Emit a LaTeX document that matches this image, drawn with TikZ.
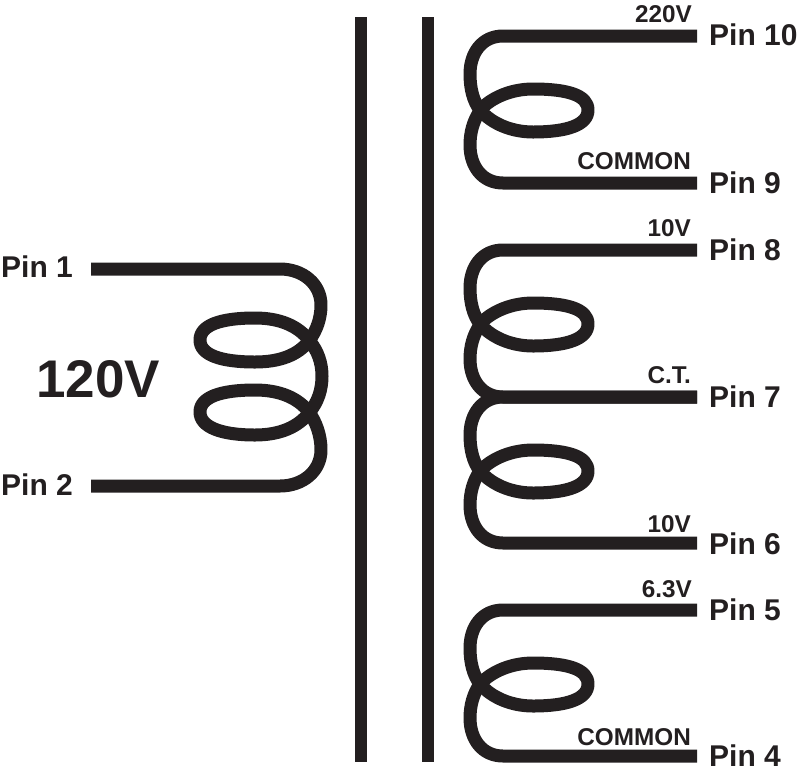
\documentclass[tikz,border=0pt]{standalone}
\usepackage{fontspec}
\setmainfont{Liberation Sans}
\definecolor{ink}{HTML}{231F20}
\tikzset{
  wire/.style={draw=ink,line width=13pt,line join=round,line cap=butt},
  core/.style={fill=ink,draw=none},
  pinlabel/.style={text=ink,inner sep=0pt,anchor=base west,font=\bfseries\fontsize{30}{32}\selectfont},
  taplabel/.style={text=ink,inner sep=0pt,anchor=base east,font=\bfseries\fontsize{24.3}{26}\selectfont},
  biglabel/.style={text=ink,inner sep=0pt,anchor=base west,font=\bfseries\fontsize{53}{55}\selectfont},
  pics/halfcoil/.style={code={
    \draw[wire] (0,0) -- (-194,0)
      .. controls (-215,0) and (-227,17) .. (-227,38)
      .. controls (-227,52) and (-224,65) .. (-217,74)
      .. controls (-205,88) and (-185,96) .. (-164,96)
      .. controls (-130,96) and (-109,89) .. (-109,74)
      .. controls (-109,59) and (-130,53) .. (-164,53)
      .. controls (-185,53) and (-205,61) .. (-217,74);
  }},
  pics/tailcoil/.style={code={
    \draw[wire] (-217,-72) .. controls (-224,-62) and (-227,-50) .. (-227,-38)
      .. controls (-227,-17) and (-215,0) .. (-194,0) -- (0,0);
  }}
}
\begin{document}
\begin{tikzpicture}[x=1pt,y=-1pt]
\useasboundingbox (0,0) rectangle (800,780);
% core
\fill[core] (355,17) rectangle (367,762);
\fill[core] (422,17) rectangle (434,762);
% primary
\draw[wire] (91,269) -- (280,269)
  .. controls (303,269) and (321,284) .. (321,305)
  .. controls (321,318) and (317,330) .. (309,341)
  .. controls (298,355) and (280,362) .. (255,362)
  .. controls (221,362) and (200,355) .. (200,340)
  .. controls (200,325) and (221,318) .. (255,318)
  .. controls (280,318) and (298,326) .. (309,340)
  .. controls (318,351) and (322,363) .. (322,376)
  .. controls (322,390) and (318,402) .. (309,413)
  .. controls (298,427) and (280,435) .. (255,435)
  .. controls (221,435) and (200,427) .. (200,412)
  .. controls (200,397) and (221,390) .. (255,390)
  .. controls (280,390) and (298,398) .. (309,412)
  .. controls (316,422) and (321,435) .. (321,450)
  .. controls (321,471) and (303,486) .. (280,486) -- (91,486);
% secondaries
\pic at (697,36) {halfcoil};
\pic at (697,183) {tailcoil};
\pic at (697,250) {halfcoil};
\pic at (697,397) {tailcoil};
\pic at (697,397) {halfcoil};
\pic at (697,543) {tailcoil};
\pic at (697,610) {halfcoil};
\pic at (697,756) {tailcoil};
% labels
\node[pinlabel] (p1) at (1,277) {Pin 1};
\node[pinlabel] (p2) at (1,495) {Pin 2};
\node[biglabel] (v120) at (36,397) {120V};
\node[pinlabel] (p10) at (709,45) {Pin 10};
\node[pinlabel] (p9) at (709,193) {Pin 9};
\node[pinlabel] (p8) at (709,260) {Pin 8};
\node[pinlabel] (p7) at (709,407) {Pin 7};
\node[pinlabel] (p6) at (709,554) {Pin 6};
\node[pinlabel] (p5) at (709,620) {Pin 5};
\node[pinlabel] (p4) at (709,766) {Pin 4};
\node[taplabel] (t220) at (692,22) {220V};
\node[taplabel] (tc1) at (691,169) {COMMON};
\node[taplabel] (t10a) at (691,236) {10V};
\node[taplabel] (tct) at (691,383) {C.T.};
\node[taplabel] (t10b) at (691,532) {10V};
\node[taplabel] (t63) at (692,597) {6.3V};
\node[taplabel] (tc2) at (691,745) {COMMON};
\end{tikzpicture}
\end{document}
